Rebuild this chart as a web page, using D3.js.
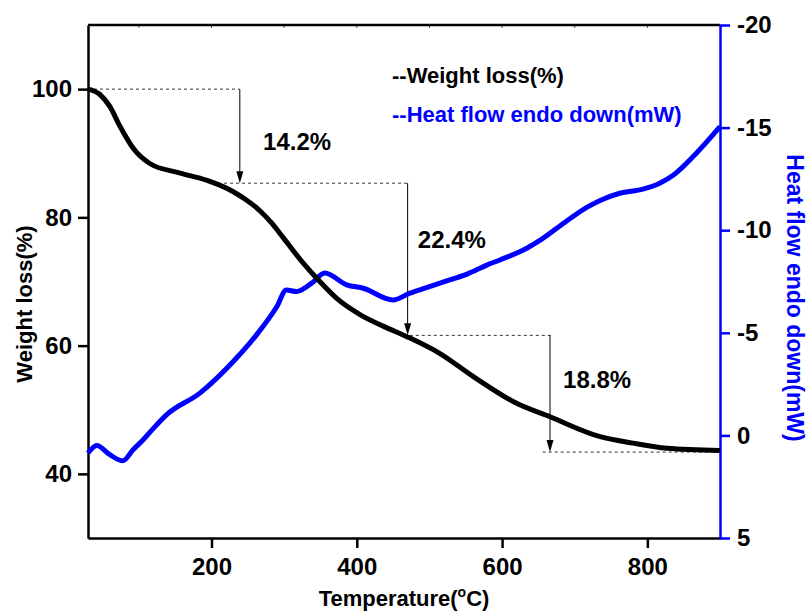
<!DOCTYPE html>
<html><head><meta charset="utf-8">
<script src="https://cdn.jsdelivr.net/npm/d3@7"></script>
<style>
body{margin:0;background:#fff}
text{font-family:"Liberation Sans",Arial,Helvetica,sans-serif;font-weight:bold}
</style>
</head><body>
<svg id="chart" width="809" height="612"></svg>
<script>
// ---- data ----
const tempW  = [30, 46, 60, 74, 92, 115, 157, 193, 230, 248, 267, 283, 299, 326, 349, 372, 405, 437, 469, 514, 560, 620, 666, 735, 780, 827, 900];
const weight = [100, 99.2, 97.3, 94.2, 90.8, 88.4, 86.9, 85.8, 84.0, 82.7, 81.0, 79.1, 76.8, 72.9, 70.0, 67.4, 64.8, 63.0, 61.4, 58.8, 55.2, 51.0, 48.9, 45.8, 44.8, 44.0, 43.65];

const tempH = [30, 42, 60, 78, 92, 106, 121, 138, 184, 230, 262, 290, 303, 317, 338, 356, 386, 409, 450, 473, 496, 528, 551, 579, 597, 634, 652, 689, 716, 735, 762, 794, 817, 836, 863, 900];
const heat  = [0.86, 0.49, 0.94, 1.24, 0.70, 0.21, -0.38, -1.0, -2.06, -3.6, -4.9, -6.28, -7.09, -7.01, -7.42, -7.91, -7.34, -7.17, -6.6, -6.93, -7.2, -7.58, -7.85, -8.3, -8.55, -9.12, -9.5, -10.45, -11.1, -11.45, -11.8, -12.0, -12.29, -12.69, -13.59, -15.05];

const xTicks = [200, 400, 600, 800];
const xMinor = [100, 300, 500, 700, 900];
const yLeftTicks = [40, 60, 80, 100];
const yLeftMinor = [30, 50, 70, 90, 110];
const yRightTicks = [-20, -15, -10, -5, 0, 5];
const yRightMinor = [-17.5, -12.5, -7.5, -2.5, 2.5];

const stepLevels = [100, 85.33, 61.6, 43.4];
const arrowTemps = [239, 470, 666];
const guideStart = [30, 209, 473, 656];
const guideEnd   = [239, 470, 667, 900];
const stepLabels = ["14.2%", "22.4%", "18.8%"];
const labelTemps = [271, 484, 684];
const labelValues = [90.5, 75.2, 53.4];
const legendLabels = ["--Weight loss(%)", "--Heat flow endo down(mW)"];

// ---- layout ----
const L = 88, R = 720, T = 25, B = 538;
const BLUE = "#0000ff";
const svg = d3.select("#chart");
svg.append("rect").attr("width", 809).attr("height", 612).attr("fill", "#fff");

const x = d3.scaleLinear().domain([30, 900]).range([L, R]);
const yL = d3.scaleLinear().domain([30, 110]).range([B, T]);
const yR = d3.scaleLinear().domain([-20, 5]).range([T, B]);

// top frame
svg.append("line").attr("x1", L).attr("x2", R).attr("y1", T).attr("y2", T)
  .attr("stroke", "#000").attr("stroke-width", 2.5);
svg.append("g").selectAll("line").data(xTicks.concat(xMinor.slice(0, 4))).join("line")
  .attr("x1", d => x(d)).attr("x2", d => x(d)).attr("y1", T).attr("y2", T + 2.5)
  .attr("stroke", "#000").attr("stroke-width", 1);

// bottom axis
const gx = svg.append("g").attr("transform", `translate(0,${B})`);
gx.call(d3.axisBottom(x).tickValues(xMinor).tickSize(6).tickSizeOuter(0).tickFormat(""));
gx.call(d3.axisBottom(x).tickValues(xTicks).tickSize(10).tickSizeOuter(0).tickPadding(10).tickFormat(d => String(d)));
gx.selectAll("path").attr("stroke", "#000").attr("stroke-width", 2.5);
gx.selectAll("line").attr("stroke", "#000").attr("stroke-width", 2.5);
gx.selectAll("text").attr("font-size", 24).attr("fill", "#000");

// left axis
const gl = svg.append("g").attr("transform", `translate(${L},0)`);
gl.call(d3.axisLeft(yL).tickValues(yLeftMinor).tickSize(6).tickSizeOuter(0).tickFormat(""));
gl.call(d3.axisLeft(yL).tickValues(yLeftTicks).tickSize(10).tickSizeOuter(0).tickPadding(6).tickFormat(d => String(d)));
gl.selectAll("path").attr("stroke", "#000").attr("stroke-width", 2.5);
gl.selectAll("line").attr("stroke", "#000").attr("stroke-width", 2.5);
gl.selectAll("text").attr("font-size", 24).attr("fill", "#000");

// right axis
const gr = svg.append("g").attr("transform", `translate(${R},0)`);
gr.call(d3.axisRight(yR).tickValues(yRightMinor).tickSize(6).tickSizeOuter(0).tickFormat(""));
gr.call(d3.axisRight(yR).tickValues(yRightTicks).tickSize(10).tickSizeOuter(0).tickPadding(7).tickFormat(d => String(d)));
gr.selectAll("path").attr("stroke", BLUE).attr("stroke-width", 2.5);
gr.selectAll("line").attr("stroke", BLUE).attr("stroke-width", 2.5);
gr.selectAll("text").attr("font-size", 24).attr("fill", "#000");

// annotation guides
const ann = svg.append("g");
ann.selectAll("line.guide").data(stepLevels).join("line").attr("class", "guide")
  .attr("x1", (d, i) => x(guideStart[i])).attr("x2", (d, i) => x(guideEnd[i]))
  .attr("y1", d => yL(d)).attr("y2", d => yL(d))
  .attr("stroke", "#333").attr("stroke-width", 1).attr("stroke-dasharray", "3,3");
ann.selectAll("line.arrow").data(arrowTemps).join("line").attr("class", "arrow")
  .attr("x1", d => x(d)).attr("x2", d => x(d))
  .attr("y1", (d, i) => yL(stepLevels[i])).attr("y2", (d, i) => yL(stepLevels[i + 1]) - 6)
  .attr("stroke", "#000").attr("stroke-width", 1);
ann.selectAll("path.head").data(arrowTemps).join("path").attr("class", "head")
  .attr("d", (d, i) => {
    const px = x(d), py = yL(stepLevels[i + 1]);
    return `M${px},${py} L${px - 3.5},${py - 12} L${px + 3.5},${py - 12} Z`;
  }).attr("fill", "#000");
ann.selectAll("text").data(stepLabels).join("text")
  .attr("x", (d, i) => x(labelTemps[i])).attr("y", (d, i) => yL(labelValues[i]))
  .attr("font-size", 24).attr("fill", "#000").text(d => d);

// curves
const lineW = d3.line().x((d, i) => x(tempW[i])).y(d => yL(d)).curve(d3.curveMonotoneX);
const lineH = d3.line().x((d, i) => x(tempH[i])).y(d => yR(d)).curve(d3.curveMonotoneX);
svg.append("path").attr("d", lineH(heat)).attr("fill", "none")
  .attr("stroke", BLUE).attr("stroke-width", 5).attr("stroke-linejoin", "round");
svg.append("path").attr("d", lineW(weight)).attr("fill", "none")
  .attr("stroke", "#000").attr("stroke-width", 5).attr("stroke-linejoin", "round");

// legend
svg.append("g").selectAll("text").data(legendLabels).join("text")
  .attr("x", 392).attr("y", (d, i) => 83 + i * 38.7)
  .attr("font-size", 22).attr("fill", (d, i) => i === 0 ? "#000" : BLUE).text(d => d);

// axis titles
const xt = svg.append("text").attr("x", (L + R) / 2).attr("y", 606)
  .attr("text-anchor", "middle").attr("font-size", 22).attr("fill", "#000");
xt.append("tspan").text("Temperature(");
xt.append("tspan").attr("font-size", 14).attr("dy", -9).text("o");
xt.append("tspan").attr("dy", 9).text("C)");

svg.append("text").attr("transform", "translate(32,304) rotate(-90)")
  .attr("text-anchor", "middle").attr("font-size", 22).attr("fill", "#000").text("Weight loss(%)");
svg.append("text").attr("transform", "translate(787,298) rotate(90)")
  .attr("text-anchor", "middle").attr("font-size", 23).attr("fill", BLUE).text("Heat flow endo down(mW)");
</script>
</body></html>
